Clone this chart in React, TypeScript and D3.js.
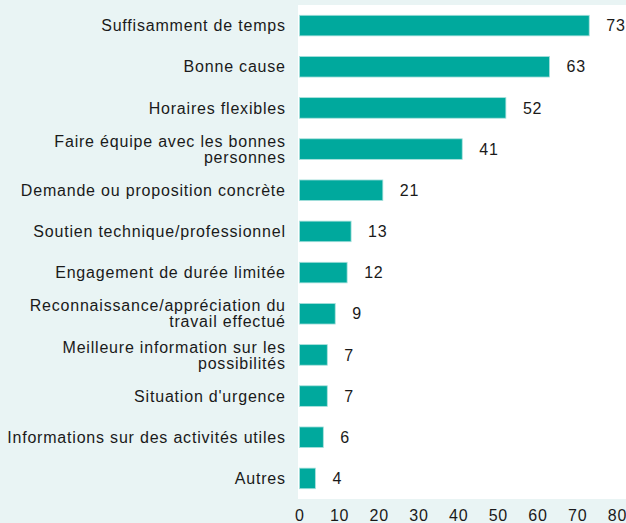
import React from "react";
import * as d3 from "d3";

const categories: string[][] = [
  ["Suffisamment de temps"],
  ["Bonne cause"],
  ["Horaires flexibles"],
  ["Faire équipe avec les bonnes", "personnes"],
  ["Demande ou proposition concrète"],
  ["Soutien technique/professionnel"],
  ["Engagement de durée limitée"],
  ["Reconnaissance/appréciation du", "travail effectué"],
  ["Meilleure information sur les", "possibilités"],
  ["Situation d'urgence"],
  ["Informations sur des activités utiles"],
  ["Autres"],
];
const values: number[] = [73, 63, 52, 41, 21, 13, 12, 9, 7, 7, 6, 4];
const xTicks: number[] = [0, 10, 20, 30, 40, 50, 60, 70, 80];

const W = 626;
const H = 523;
const plotLeft = 298;
const plotTop = 5;
const plotBottom = 499;
const x0 = 299.5;
const x80 = 617;
const FONT = "'Liberation Sans', Arial, Helvetica, sans-serif";
const FS = 16;
const LS = 0.8;

export default function App() {
  const x = d3.scaleLinear().domain([0, 80]).range([x0, x80]);
  const idx = categories.map((_, i) => String(i));
  const y = d3
    .scaleBand<string>()
    .domain(idx)
    .range([plotTop, plotBottom])
    .paddingInner(0.5)
    .paddingOuter(0.25);
  const bw = y.bandwidth();
  return (
    <svg
      width={W}
      height={H}
      style={{ position: "absolute", left: 0, top: 0, display: "block" }}
      fontFamily={FONT}
    >
      <rect x={0} y={0} width={W} height={H} fill="#e9f4f4" />
      <rect x={plotLeft} y={plotTop} width={W - plotLeft} height={plotBottom - plotTop} fill="#ffffff" />
      {values.map((v, i) => {
        const yy = y(String(i))!;
        const cy = yy + bw / 2;
        const lines = categories[i];
        return (
          <g key={i}>
            <rect
              x={x(0)}
              y={yy}
              width={x(v) - x(0)}
              height={bw}
              fill="#00a99d"
              stroke="#a8e0dc"
              strokeWidth={0.8}
            />
            <text
              x={x(v) + 17}
              y={cy}
              dy="0.35em"
              fontSize={FS}
              letterSpacing={LS}
              fill="#1a1a1a"
            >
              {v}
            </text>
            {lines.map((l, j) => (
              <text
                key={j}
                x={285 + LS}
                y={cy + (j - (lines.length - 1) / 2) * 16}
                dy="0.35em"
                textAnchor="end"
                fontSize={FS}
                letterSpacing={LS}
                fill="#1a1a1a"
              >
                {l}
              </text>
            ))}
          </g>
        );
      })}
      {xTicks.map((t) => (
        <text
          key={t}
          x={x(t) + LS / 2}
          y={515}
          dy="0.35em"
          textAnchor="middle"
          fontSize={FS}
          letterSpacing={LS}
          fill="#1a1a1a"
        >
          {t}
        </text>
      ))}
    </svg>
  );
}
